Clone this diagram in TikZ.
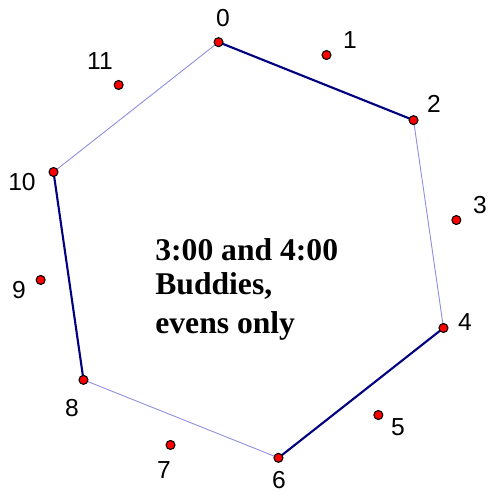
\documentclass[tikz,border=0pt]{standalone}
\usepackage{fontspec}
\setmainfont{Liberation Serif}
\newfontfamily\labelfont{Liberation Sans}
\usetikzlibrary{calc}
\definecolor{navyline}{HTML}{000080}
\definecolor{paleline}{HTML}{8C8CE0}
\definecolor{dotred}{HTML}{FF0000}
\tikzset{
  evenedge/.style={draw=navyline,line width=1.2pt},
  oddedge/.style={draw=paleline,line width=0.5pt},
  hourdot/.style={circle,draw=black,fill=dotred,line width=0.6pt,
                  inner sep=0pt,minimum size=0.18cm},
  hourlabel/.style={font=\labelfont\fontsize{14}{14}\selectfont,inner sep=0pt},
  notetext/.style={align=left,inner sep=0pt,
                   font=\bfseries\fontsize{18}{19.35}\selectfont}
}

\begin{document}
\begin{tikzpicture}[x=0.02cm,y=-0.02cm]
  \useasboundingbox (0,0) rectangle (489,492);
  \coordinate (ctr) at (248.5,250);
  \foreach \i in {0,...,11}
    \coordinate (c\i) at ($(ctr)+({261.8+30*\i}:210)$);
  % hexagon through the even hours
  \draw[evenedge] (c0) -- (c2);
  \draw[oddedge] (c2) -- (c4);
  \draw[evenedge] (c4) -- (c6);
  \draw[oddedge] (c6) -- (c8);
  \draw[evenedge] (c8) -- (c10);
  \draw[oddedge] (c10) -- (c0);
  \foreach \i in {0,...,11}
    \node[hourdot] (p\i) at (c\i) {};
  \foreach \i/\x/\y in {0/223/18,1/350/40,2/434/104,3/480/205,4/465/322,
                        5/398/427,6/279/480,7/164/470,8/72/408,9/19/290,
                        10/22/182,11/100/61}
    \node[hourlabel] (l\i) at (\x,\y) {\i};
  \node[notetext,anchor=north west] (note) at (155,238.5)
    {3:00 and 4:00\\Buddies,\\[2.85pt]evens only};
\end{tikzpicture}
\end{document}
